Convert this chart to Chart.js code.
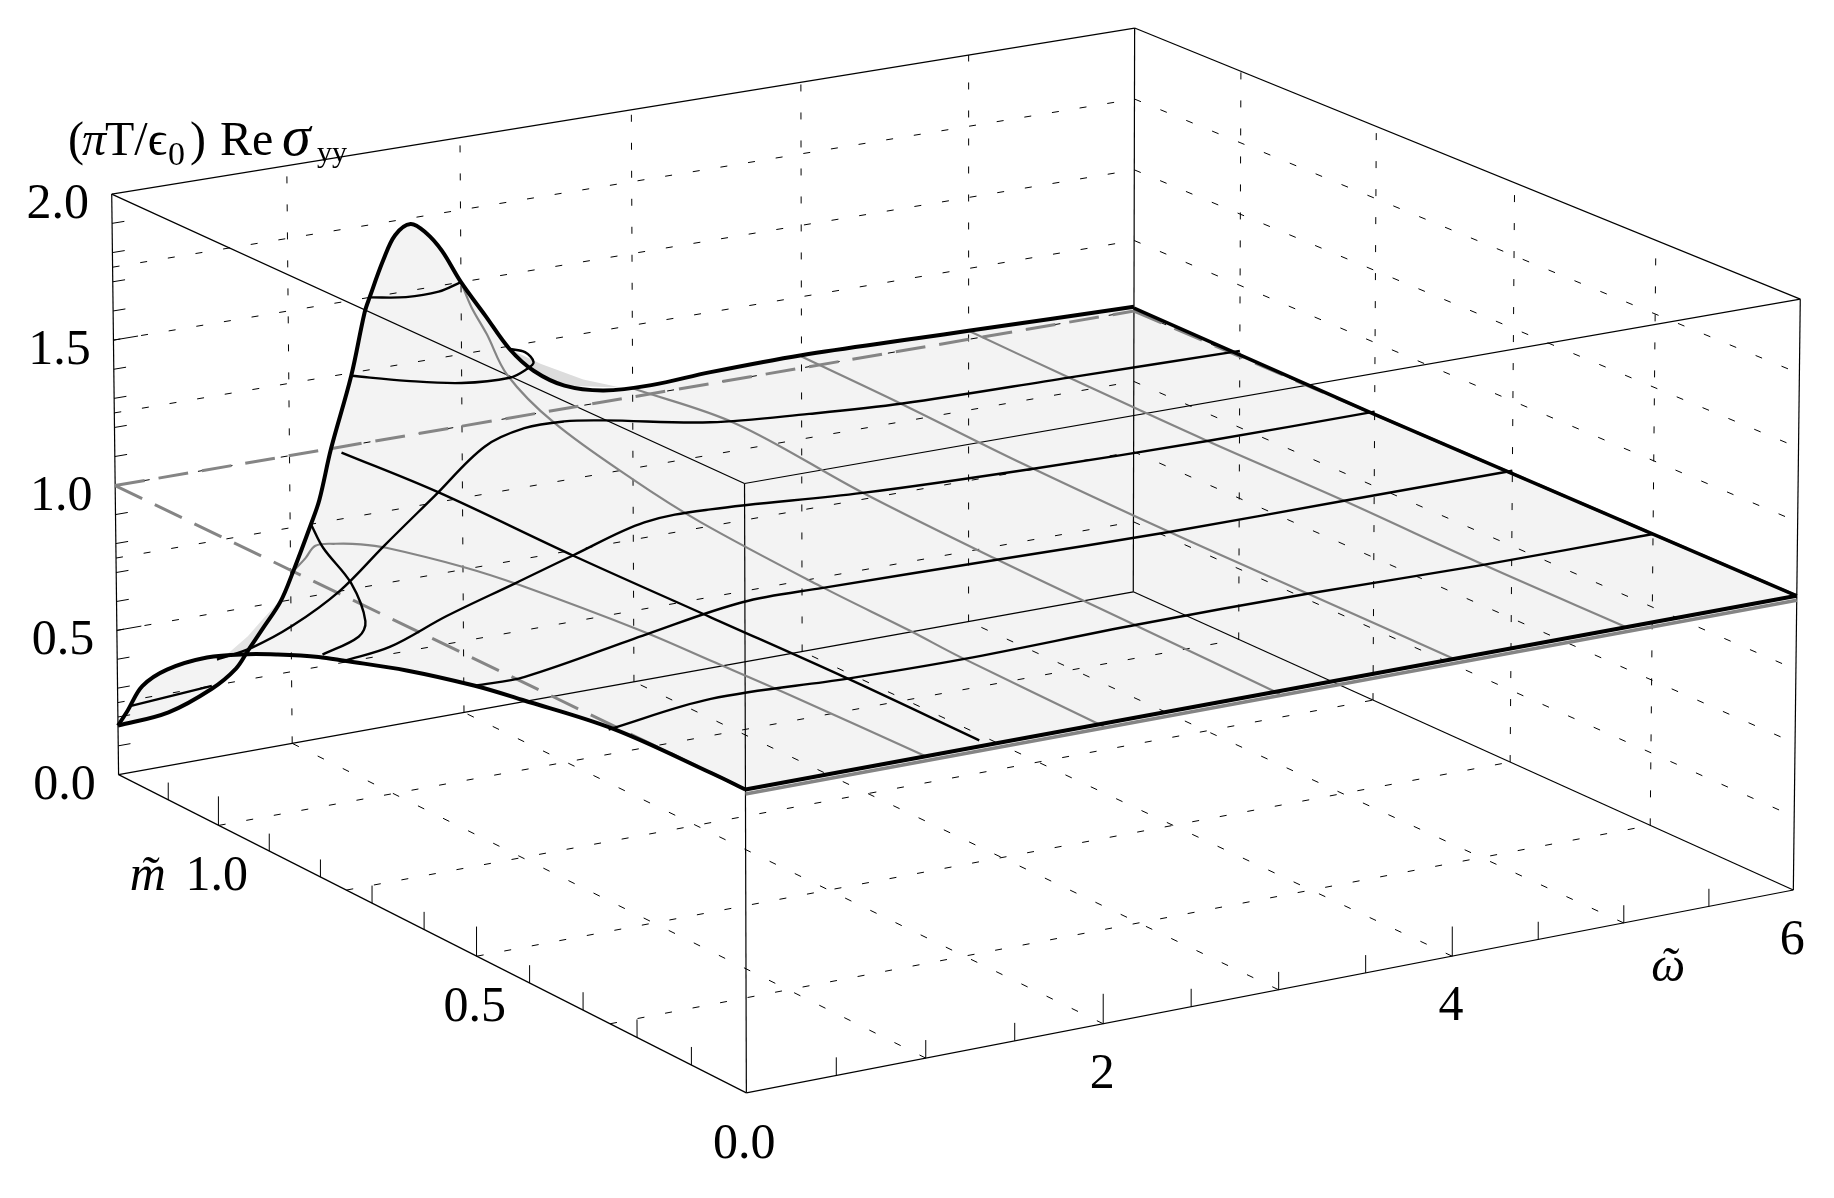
<!DOCTYPE html>
<html>
<head>
<meta charset="utf-8">
<title>Re sigma yy surface</title>
<script src="https://cdn.jsdelivr.net/npm/chart.js@4"></script>
<style>
    body { margin: 0; background: #fff; }
    canvas { display: block; }
</style>
</head>
<body>
<canvas id="myChart" width="1834" height="1198"></canvas>
<script>
// Axis ranges and ticks
const omegaMax = 6, mMax = 1.2, sigmaMax = 2;
const omegaTicks = [0.5, 1, 1.5, 2, 2.5, 3, 3.5, 4, 4.5, 5, 5.5];
const mTicks = [0.1, 0.2, 0.3, 0.4, 0.5, 0.6, 0.7, 0.8, 0.9, 1, 1.1];
const sigmaTicks = [0.1, 0.2, 0.3, 0.4, 0.5, 0.6, 0.7, 0.8, 0.9, 1, 1.1, 1.2, 1.3, 1.4, 1.5, 1.6, 1.7, 1.8, 1.9];
const omegaLong = [2, 4];
const mLong = [0.5, 1];
const sigmaLong = [0.5, 1, 1.5];
const omegaGrid = [1, 2, 3, 4, 5];
const mGrid = [0.25, 0.5, 0.75, 1];
const sigmaGrid = [0.25, 0.5, 0.75, 1, 1.25, 1.5, 1.75];
const omegaLabels = ['2', '4', '6'];
const mLabels = ['0.0', '0.5', '1.0'];
const sigmaLabels = ['0.0', '0.5', '1.0', '1.5', '2.0'];

// Curves at fixed m: omega, sigma
const edgeOmega = [0, .29, .54, .68, .75, .84, .94, 1.01, 1.12, 1.17, 1.24, 1.36, 1.44, 1.47, 1.55, 1.62, 1.71, 1.80, 1.89, 2.00, 2.14, 2.28, 2.42, 2.60, 2.83, 3.11, 3.46, 4.00, 4.69, 5.01, 6.00];
const edgeSigma = [.17, .185, .24, .295, .35, .42, .50, .59, .75, .83, 1.00, 1.24, 1.45, 1.50, 1.62, 1.70, 1.73, 1.69, 1.62, 1.50, 1.37, 1.24, 1.15, 1.08, 1.04, 1.03, 1.04, 1.045, 1.035, 1.03, 1.015];
const m100Omega = [0, .20, .43, .70, .96, 1.25, 1.54, 1.77, 2.00, 2.23, 2.85, 3.43, 3.98, 4.97, 6];
const m100Sigma = [.57, .59, .64, .73, .86, 1.00, 1.14, 1.18, 1.18, 1.16, 1.09, 1.06, 1.04, 1.03, 1.02];
const m075Omega = [0, .26, .58, .97, 1.30, 1.71, 2.09, 2.97, 3.97, 4.99, 6];
const m075Sigma = [.78, .80, .87, .94, 1.00, 1.07, 1.075, 1.04, 1.02, 1.01, 1.01];
const m050Omega = [0, .28, .97, 1.51, 1.97, 2.97, 3.98, 5, 6];
const m050Sigma = [.91, .91, .98, 1.03, 1.03, 1.02, 1.01, 1.01, 1.01];
const m025Omega = [0, .57, 1.34, 2, 2.99, 3.97, 4.98, 6];
const m025Sigma = [.98, 1.02, 1.005, 1.00, 1.01, 1.01, 1.00, 1.00];

// Curves at fixed omega: m, sigma
const w0M = [1.2, 1.18, 1.15, 1.10, 1.02, .94, .88, .80, .75, .63, .50, .41, .24, .06, 0];
const w0Sigma = [.17, .24, .35, .45, .56, .64, .69, .75, .78, .85, .91, .94, .99, 1.00, 1.00];
const w1M = [1.2, 1.17, 1.15, 1.11, 1.06, 1.01, .86, .75, .52, .39, .25, 0];
const w1Sigma = [.59, .67, .73, .77, .81, .84, .90, .93, .97, .98, .99, 1.00];
const w13M = [1.2, 1.01, .75, .49, .24, 0];
const w13Sigma = [.98, 1.00, 1.00, 1.01, 1.02, 1.02];
const w2M = [1.2, 1.18, 1.15, 1.11, 1.02, .87, .74, .51, .35, .26, 0];
const w2Sigma = [1.50, 1.43, 1.36, 1.25, 1.16, 1.09, 1.05, 1.02, 1.01, 1.00, .99];
const w3M = [1.2, 1.00, .76, .51, .25, 0];
const w3Sigma = [1.03, 1.07, 1.03, 1.01, 1.00, .99];
const w4M = [1.2, 1.01, .78, .51, .26, 0];
const w4Sigma = [1.04, 1.03, 1.01, 1.00, 1.00, 1.00];
const w5M = [1.2, 1.01, .75, .50, .25, 0];
const w5Sigma = [1.03, 1.02, 1.01, 1.01, 1.00, 1.00];
const w6M = [1.2, .75, .5, .25, 0];
const w6Sigma = [1.01, 1.00, 1.00, 1.00, 1.00];

// Contour bits near the peak, read against the m = 1.2 wall
const c075Omega = [1.12, 1.19, 1.35, 1.43, 1.39, 1.18];
const c075Sigma = [.75, .66, .52, .38, .33, .29];
const c150Omega = [1.47, 1.68, 1.87, 2.00];
const c150Sigma = [1.50, 1.48, 1.48, 1.50];
const c125Omega = [1.36, 1.68, 2.00, 2.28, 2.38, 2.42, 2.37, 2.28];
const c125Sigma = [1.24, 1.19, 1.15, 1.14, 1.16, 1.18, 1.22, 1.24];
const stubOmega = [.07, .54];
const stubSigma = [.23, .25];
const foldUpOmega = [2.28, 2.46, 2.71, 2.93, 2.60, 2.42, 2.28];
const foldUpSigma = [1.24, 1.17, 1.09, 1.04, 1.08, 1.15, 1.24];
const foldLowOmega = [.55, .63, .75, .82, .91, .94, .84, .75];
const foldLowSigma = [.34, .35, .40, .44, .49, .50, .42, .35];

// Box corners on the page, used to fit the perspective: omega, m, sigma, x, y
const boxCorners = [
    [0, mMax, 0, 118.5, 774.3], [0, 0, 0, 746, 1093], [omegaMax, 0, 0, 1793, 890], [omegaMax, mMax, 0, 1134, 592],
    [0, mMax, sigmaMax, 111.7, 194.3], [0, 0, sigmaMax, 745, 483.5], [omegaMax, 0, sigmaMax, 1800.5, 299], [omegaMax, mMax, sigmaMax, 1134, 28]
];

function solve(A, b) {
    const n = b.length;
    A = A.map((r, i) => [...r, b[i]]);
    for (let i = 0; i < n; i++) {
        let p = i;
        for (let k = i; k < n; k++) if (Math.abs(A[k][i]) > Math.abs(A[p][i])) p = k;
        [A[i], A[p]] = [A[p], A[i]];
        for (let k = 0; k < n; k++) {
            if (k === i) continue;
            const f = A[k][i] / A[i][i];
            for (let j = i; j <= n; j++) A[k][j] -= f * A[i][j];
        }
    }
    return A.map((r, i) => r[n] / r[i]);
}

function fitCamera() {
    const rows = [], rhs = [];
    boxCorners.forEach(([w, m, s, x, y]) => {
        rows.push([w, m, s, 1, 0, 0, 0, 0, -x * w, -x * m, -x * s]); rhs.push(x);
        rows.push([0, 0, 0, 0, w, m, s, 1, -y * w, -y * m, -y * s]); rhs.push(y);
    });
    const idx = [...Array(11).keys()];
    const N = idx.map(i => idx.map(j => rows.reduce((t, r) => t + r[i] * r[j], 0)));
    const v = idx.map(i => rows.reduce((t, r, k) => t + r[i] * rhs[k], 0));
    return solve(N, v);
}
const cam = fitCamera();

function project(w, m, s) {
    const d = cam[8] * w + cam[9] * m + cam[10] * s + 1;
    return {
        x: (cam[0] * w + cam[1] * m + cam[2] * s + cam[3]) / d,
        y: (cam[4] * w + cam[5] * m + cam[6] * s + cam[7]) / d
    };
}
const atM = (m, oms, sig) => oms.map((w, i) => project(w, m, sig[i]));
const atW = (w, ms, sig) => ms.map((m, i) => project(w, m, sig[i]));

const datasets = [];
function add(data, color, width, extra) {
    datasets.push(Object.assign({
        data: data, borderColor: color, borderWidth: width, pointRadius: 0,
        showLine: true, tension: 0, fill: false, order: -datasets.length
    }, extra));
}
const grid = { borderDash: [7, 21] };
const smooth = { tension: 0.35 };
const gray = '#858585';

// Surface shading goes down first
const outline = [
    ...atM(mMax, edgeOmega, edgeSigma),
    ...atW(omegaMax, w6M, w6Sigma),
    project(0, 0, 1),
    ...atW(0, w0M, w0Sigma).reverse()
];
add(outline, 'rgba(0,0,0,0)', 0, { fill: 'shape', backgroundColor: '#f3f3f3' });
add(atM(mMax, foldUpOmega, foldUpSigma), 'rgba(0,0,0,0)', 0, { fill: 'shape', backgroundColor: '#dcdcdc' });
add(atM(mMax, foldLowOmega, foldLowSigma), 'rgba(0,0,0,0)', 0, { fill: 'shape', backgroundColor: '#e3e3e3' });

// Dashed grid on the floor and the two back walls
omegaGrid.forEach(w => {
    add([project(w, 0, 0), project(w, mMax, 0)], '#000', 1, grid);
    add([project(w, mMax, 0), project(w, mMax, sigmaMax)], '#000', 1, grid);
});
mGrid.forEach(m => {
    add([project(0, m, 0), project(omegaMax, m, 0)], '#000', 1, grid);
    add([project(omegaMax, m, 0), project(omegaMax, m, sigmaMax)], '#000', 1, grid);
});
sigmaGrid.forEach(s => {
    add([project(0, mMax, s), project(omegaMax, mMax, s)], '#000', 1, grid);
    add([project(omegaMax, mMax, s), project(omegaMax, 0, s)], '#000', 1, grid);
});

// Box edges
const corners = [[0, mMax], [0, 0], [omegaMax, 0], [omegaMax, mMax]];
corners.forEach(([w, m], i) => {
    const [w2, m2] = corners[(i + 1) % 4];
    add([project(w, m, 0), project(w2, m2, 0)], '#000', 1.2);
    add([project(w, m, sigmaMax), project(w2, m2, sigmaMax)], '#000', 1.2);
    add([project(w, m, 0), project(w, m, sigmaMax)], '#000', 1.2);
});

// Axis ticks
omegaTicks.forEach(w => add([project(w, 0, 0), project(w, 0, omegaLong.includes(w) ? 0.1 : 0.06)], '#000', 1));
mTicks.forEach(m => add([project(0, m, 0), project(0, m, mLong.includes(m) ? 0.1 : 0.06)], '#000', 1));
sigmaTicks.forEach(s => add([project(0, mMax, s), project(sigmaLong.includes(s) ? 0.14 : 0.07, mMax, s)], '#000', 1));

// Reference plane at sigma = 1
const longDash = { borderDash: [30, 14] };
add([project(0, mMax, 1), project(0, 0, 1)], gray, 3, longDash);
add([project(0, mMax, 1), project(omegaMax, mMax, 1)], gray, 3, longDash);
add([project(omegaMax, mMax, 1), project(omegaMax, 0, 1)], gray, 3, longDash);
add([project(0, 0, 0.985), project(omegaMax, 0, 0.985)], gray, 3.5);

// Lines on the surface
add(atW(1, w1M, w1Sigma), gray, 2.2, smooth);
add(atW(2, w2M, w2Sigma), gray, 2.2, smooth);
add(atW(3, w3M, w3Sigma), gray, 2.2, smooth);
add(atW(4, w4M, w4Sigma), gray, 2.2, smooth);
add(atW(5, w5M, w5Sigma), gray, 2.2, smooth);
add(atW(1.3, w13M, w13Sigma), '#000', 2.4, smooth);
add(atM(1, m100Omega, m100Sigma), '#000', 2.4, smooth);
add(atM(0.75, m075Omega, m075Sigma), '#000', 2.4, smooth);
add(atM(0.5, m050Omega, m050Sigma), '#000', 2.4, smooth);
add(atM(0.25, m025Omega, m025Sigma), '#000', 2.4, smooth);
add(atM(mMax, c075Omega, c075Sigma), '#000', 2.4, smooth);
add(atM(mMax, c150Omega, c150Sigma), '#000', 2.4, smooth);
add(atM(mMax, c125Omega, c125Sigma), '#000', 2.4, smooth);
add(atM(mMax, stubOmega, stubSigma), '#000', 2.4);

// Thick outline of the surface
add(atM(mMax, edgeOmega, edgeSigma), '#000', 4, smooth);
add(atW(0, w0M, w0Sigma), '#000', 4, smooth);
add(atW(omegaMax, w6M, w6Sigma), '#000', 3.5);
add([project(0, 0, 1), project(omegaMax, 0, 1)], '#000', 4);

const serif = '"Liberation Serif", serif';
const textPlugin = {
    id: 'axisText',
    afterDatasetsDraw(chart) {
        const { ctx, scales } = chart;
        const put = (txt, x, y, font, align) => {
            ctx.font = font + ' ' + serif;
            ctx.textAlign = align || 'left';
            ctx.fillText(txt, x, y);
        };
        const at = p => ({ x: scales.x.getPixelForValue(p.x), y: scales.y.getPixelForValue(p.y) });
        ctx.save();
        ctx.fillStyle = '#000';
        ctx.textBaseline = 'alphabetic';
        sigmaLabels.forEach(t => {
            const p = at(project(0, mMax, parseFloat(t)));
            put(t, p.x - 54, p.y + 24, '50px', 'center');
        });
        mLabels.forEach(t => {
            const p = at(project(0, parseFloat(t), 0));
            put(t, p.x - 2, p.y + 65, '50px', 'center');
        });
        omegaLabels.forEach(t => {
            const p = at(project(parseFloat(t), 0, 0));
            put(t, p.x - 1, p.y + 64, '50px', 'center');
        });
        const mTip = at(project(0, 1, 0)), wTip = at(project(omegaMax, 0, 0));
        put('m\u0303', mTip.x - 89, mTip.y + 65, 'italic 50px');
        put('\u03c9', wTip.x - 142, wTip.y + 91, 'italic 48px');
        put('\u02dc', wTip.x - 133, wTip.y + 91, 'italic 48px');
        // axis title, piece by piece
        put('(', 68, 155, '48px');
        put('\u03c0', 82, 155, 'italic 48px');
        put('T/\u03f5', 105, 155, '48px');
        put('0', 168, 165, '34px');
        put(')', 190, 155, '48px');
        put('Re', 220, 155, '48px');
        put('\u03c3', 282, 155, 'italic 58px');
        put('yy', 317, 162, '30px');
        ctx.restore();
    }
};

const ctx = document.getElementById('myChart').getContext('2d');
const myChart = new Chart(ctx, {
    type: 'scatter',
    data: { datasets: datasets },
    options: {
        responsive: false,
        animation: false,
        layout: { padding: 0 },
        plugins: { legend: { display: false }, tooltip: { enabled: false }, title: { display: false } },
        scales: {
            x: { type: 'linear', min: 0, max: 1834, display: false },
            y: { type: 'linear', min: 0, max: 1198, reverse: true, display: false }
        }
    },
    plugins: [textPlugin]
});
</script>
</body>
</html>
